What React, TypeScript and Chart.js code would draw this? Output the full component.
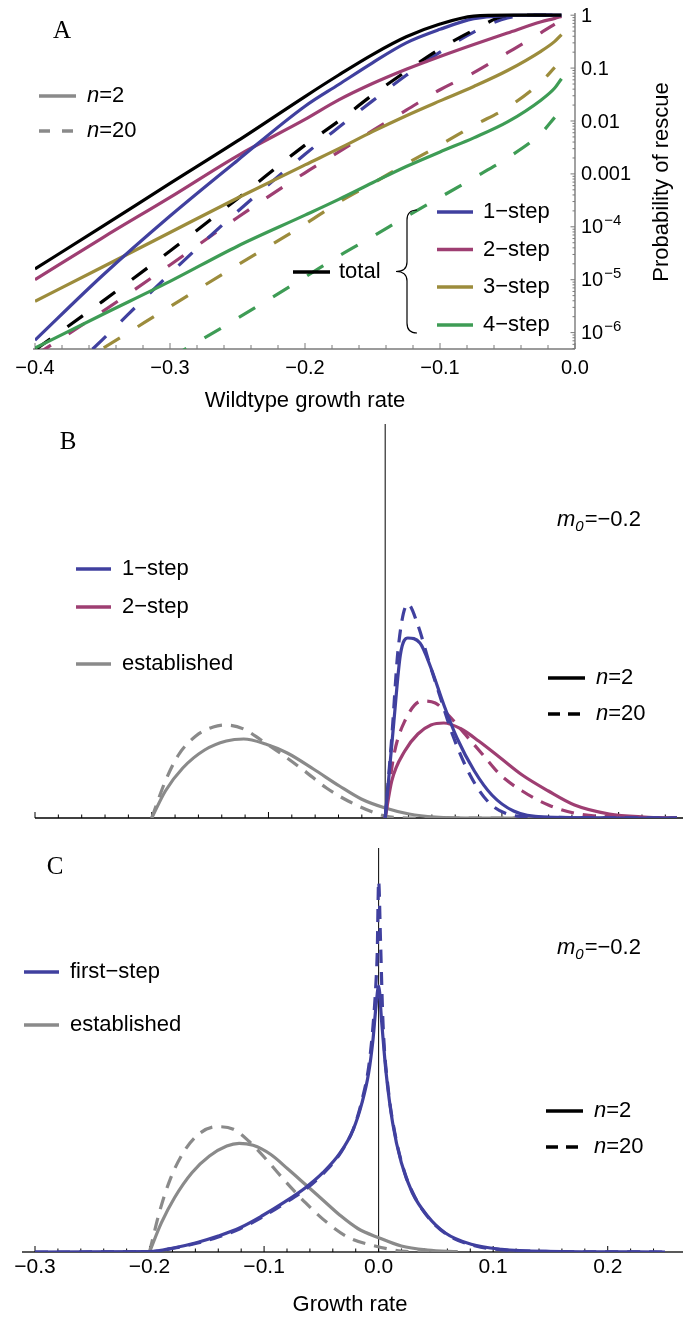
import { useEffect, useRef } from "react";
import { Chart, registerables } from "chart.js";

Chart.register(...registerables);

const SANS = "'Liberation Sans', Arial, Helvetica, sans-serif";
const SERIF = "'Liberation Serif', 'Times New Roman', serif";

const BLUE = "#40409f";
const MAGENTA = "#9e3e72";
const GOLD = "#9c8c3c";
const GREEN = "#3e9c55";
const GRAY = "#8a8a8a";
const BLACK = "#000000";
const AXIS_A = "#7a7a7a";

// ---------------- Panel A : probability of rescue (log scale) ----------------
const aGrowth = [-0.4, -0.35, -0.3, -0.25, -0.2, -0.175, -0.15, -0.125, -0.1, -0.075, -0.05, -0.025, -0.015, -0.01];
const aTotalN2 = [1.6e-5, 1.02e-4, 6.6e-4, 4.2e-3, 0.029, 0.074, 0.18, 0.39, 0.68, 0.96, 1, 1, 1, 1];
const aStep1N2 = [7.2e-7, 1.2e-5, 1.6e-4, 1.8e-3, 0.019, 0.049, 0.126, 0.3, 0.54, 0.86, 0.98, 1, 1, 1];
const aStep2N2 = [1.0e-5, 6.2e-5, 3.6e-4, 2.2e-3, 0.0107, 0.025, 0.051, 0.095, 0.166, 0.28, 0.46, 0.75, 0.87, 0.95];
const aStep3N2 = [3.9e-6, 1.74e-5, 7.8e-5, 3.5e-4, 1.48e-3, 3.0e-3, 6.3e-3, 0.0126, 0.024, 0.045, 0.09, 0.21, 0.32, 0.43];
const aStep4N2 = [5.1e-7, 2.2e-6, 9.3e-6, 4.3e-5, 1.66e-4, 3.3e-4, 6.8e-4, 1.38e-3, 2.6e-3, 4.8e-3, 9.6e-3, 0.025, 0.042, 0.063];
const aTotalN20 = [4.7e-7, 3.9e-6, 3.5e-5, 3.4e-4, 3.5e-3, 0.01, 0.031, 0.087, 0.23, 0.52, 0.98, 1, 1, 1];
const aStep1N20 = [4.3e-8, 7.4e-7, 1.3e-5, 1.95e-4, 2.35e-3, 7.6e-3, 0.024, 0.073, 0.2, 0.48, 0.89, 1, 1, 1];
const aStep2N20 = [3.7e-7, 2.5e-6, 1.9e-5, 1.5e-4, 1.05e-3, 2.6e-3, 6.6e-3, 0.016, 0.039, 0.082, 0.195, 0.47, 0.68, null];
const aStep3N20 = [8.7e-8, 5.0e-7, 3.1e-6, 1.9e-5, 1.12e-4, 2.9e-4, 6.6e-4, 1.55e-3, 3.5e-3, 8.2e-3, 0.018, 0.055, 0.103, null];
const aStep4N20 = [null, null, 3.3e-7, 1.86e-6, 1.12e-5, 2.8e-5, 6.5e-5, 1.56e-4, 3.6e-4, 8.4e-4, 2.0e-3, 5.9e-3, 0.0117, null];
const aXTicks = [-0.4, -0.3, -0.2, -0.1, 0];
const aXTickLabels = ["\u22120.4", "\u22120.3", "\u22120.2", "\u22120.1", "0.0"];
const aYTicks = [1e-6, 1e-5, 1e-4, 1e-3, 1e-2, 1e-1, 1];
const aYTickBase = ["10", "10", "10", "0.001", "0.01", "0.1", "1"];
const aYTickExp = ["\u22126", "\u22125", "\u22124", "", "", "", ""];
const aStepLabels = ["1\u2212step", "2\u2212step", "3\u2212step", "4\u2212step"];

// ---------------- Panel B : growth-rate distributions ----------------
const bStep1N2X = [0, 0.0075, 0.013, 0.0194, 0.0298, 0.0392, 0.0503, 0.0615, 0.0764, 0.0914, 0.11, 0.1361, 0.25];
const bStep1N2 = [0, 9.7, 16.3, 18.0, 17.5, 15.0, 11.3, 8.0, 4.7, 2.3, 0.7, 0.1, 0];
const bStep1N20X = [0, 0.0056, 0.0112, 0.0194, 0.028, 0.0373, 0.0466, 0.0578, 0.0727, 0.0876, 0.1025, 0.1286, 0.25];
const bStep1N20 = [0, 8.0, 17.0, 21.4, 19.3, 15.7, 12.3, 8.3, 4.3, 1.7, 0.5, 0.1, 0];
const bStep2N2X = [0, 0.0056, 0.0168, 0.028, 0.0392, 0.0503, 0.0652, 0.0801, 0.0988, 0.1174, 0.1398, 0.1622, 0.192, 0.2219, 0.25];
const bStep2N2 = [0, 3.7, 6.7, 8.4, 9.3, 9.5, 8.9, 7.7, 6.0, 4.3, 2.7, 1.3, 0.4, 0.1, 0];
const bStep2N20X = [0, 0.0075, 0.0168, 0.0317, 0.0429, 0.0541, 0.069, 0.0839, 0.0988, 0.1174, 0.1398, 0.1659, 0.1995, 0.25];
const bStep2N20 = [0, 6.3, 9.7, 11.7, 11.5, 10.3, 8.3, 6.3, 4.3, 2.7, 1.3, 0.4, 0.1, 0];
const bEstN2X = [-0.2, -0.1883, -0.1734, -0.1547, -0.1361, -0.1212, -0.1025, -0.0839, -0.0615, -0.0392, -0.0205, 0, 0.0205, 0.0429, 0.08, 0.25];
const bEstN2 = [0, 2.7, 5.0, 6.8, 7.7, 7.9, 7.4, 6.5, 4.9, 3.2, 1.9, 1.0, 0.4, 0.1, 0, 0];
const bEstN20X = [-0.2, -0.1883, -0.1771, -0.1622, -0.1473, -0.1361, -0.1212, -0.1063, -0.0876, -0.069, -0.0503, -0.0317, -0.013, 0, 0.021, 0.25];
const bEstN20 = [0, 3.7, 6.3, 8.2, 9.1, 9.3, 8.9, 7.8, 6.3, 4.7, 3.0, 1.7, 0.7, 0.2, 0, 0];

// ---------------- Panel C : first-step vs established ----------------
const cStep1N2X = [-0.3, -0.2, -0.1782, -0.1592, -0.1401, -0.121, -0.102, -0.083, -0.0639, -0.0487, -0.0335, -0.0221, -0.0145, -0.0087, -0.0049, -0.0023, 0, 0.0027, 0.0065, 0.0122, 0.0198, 0.0294, 0.0427, 0.0579, 0.0808, 0.1074, 0.145, 0.25];
const cStep1N2 = [0, 0.03, 0.43, 0.93, 1.6, 2.43, 3.6, 4.93, 6.43, 7.93, 9.93, 12.27, 14.93, 17.93, 21.27, 24.6, 26.6, 22.93, 17.93, 12.93, 8.93, 5.93, 3.6, 1.93, 0.77, 0.27, 0.07, 0];
const cStep1N20X = [-0.3, -0.2, -0.178, -0.159, -0.14, -0.121, -0.102, -0.083, -0.0639, -0.0487, -0.0335, -0.0221, -0.0145, -0.0087, -0.0049, -0.0023, -0.0012, 0, 0.0016, 0.0038, 0.0084, 0.0141, 0.0218, 0.0312, 0.0446, 0.0617, 0.0846, 0.11, 0.15, 0.25];
const cStep1N20 = [0, 0.02, 0.4, 0.87, 1.5, 2.33, 3.47, 4.8, 6.27, 7.8, 9.87, 12.3, 15.2, 18.5, 22.6, 27.0, 30.0, 37.1, 31.27, 22.9, 16.27, 11.93, 8.27, 5.6, 3.27, 1.6, 0.6, 0.2, 0.05, 0];
const cEstN2X = [-0.2, -0.1896, -0.1782, -0.163, -0.1477, -0.1326, -0.1218, -0.1096, -0.0944, -0.0792, -0.0639, -0.0487, -0.0335, -0.0182, 0, 0.0198, 0.0427, 0.069];
const cEstN2 = [0, 2.93, 5.43, 7.93, 9.6, 10.6, 10.87, 10.67, 9.77, 8.3, 6.75, 5.2, 3.65, 2.35, 1.43, 0.6, 0.2, 0.03];
const cEstN20X = [-0.2, -0.1915, -0.182, -0.1706, -0.1572, -0.142, -0.1268, -0.1135, -0.0982, -0.083, -0.0639, -0.0449, -0.0259, -0.0031, 0.0198, 0.044];
const cEstN20 = [0, 3.93, 7.27, 9.93, 11.77, 12.53, 12.27, 11.1, 9.27, 7.27, 4.93, 2.93, 1.43, 0.6, 0.1, 0];
const cXTicks = [-0.3, -0.2, -0.1, 0, 0.1, 0.2];
const cXTickLabels = ["\u22120.3", "\u22120.2", "\u22120.1", "0.0", "0.1", "0.2"];
const m0Label = "=\u22120.2";

// ---------------- helpers ----------------
const DASH_A = [19, 21];
const DASH_BC = [13, 9];

function series(xs: number[], ys: (number | null)[], color: string, dash: number[]) {
  return {
    data: xs.map((x, i) => ({ x, y: ys[i] })),
    borderColor: color,
    borderWidth: 3.2,
    borderDash: dash,
    borderCapStyle: "butt",
    pointRadius: 0,
    fill: false,
    cubicInterpolationMode: "monotone",
  } as any;
}

function line(ctx: CanvasRenderingContext2D, x1: number, y1: number, x2: number, y2: number, color: string, width: number, dash: number[] = []) {
  ctx.save();
  ctx.beginPath();
  ctx.setLineDash(dash);
  ctx.strokeStyle = color;
  ctx.lineWidth = width;
  ctx.moveTo(x1, y1);
  ctx.lineTo(x2, y2);
  ctx.stroke();
  ctx.restore();
}

function text(ctx: CanvasRenderingContext2D, s: string, x: number, y: number, font: string, align: CanvasTextAlign = "left") {
  ctx.save();
  ctx.font = font;
  ctx.fillStyle = "#000";
  ctx.textAlign = align;
  ctx.textBaseline = "middle";
  ctx.fillText(s, x, y);
  ctx.restore();
}

function nLabel(ctx: CanvasRenderingContext2D, rest: string, x: number, y: number, size: number) {
  ctx.save();
  ctx.fillStyle = "#000";
  ctx.textBaseline = "middle";
  ctx.textAlign = "left";
  ctx.font = `italic ${size}px ${SANS}`;
  ctx.fillText("n", x, y);
  const w = ctx.measureText("n").width;
  ctx.font = `${size}px ${SANS}`;
  ctx.fillText(rest, x + w, y);
  ctx.restore();
}

function m0(ctx: CanvasRenderingContext2D, x: number, y: number, size: number) {
  ctx.save();
  ctx.fillStyle = "#000";
  ctx.textBaseline = "middle";
  ctx.textAlign = "left";
  ctx.font = `italic ${size}px ${SANS}`;
  ctx.fillText("m", x, y);
  const w1 = ctx.measureText("m").width;
  const sub = Math.round(size * 0.68);
  ctx.font = `italic ${sub}px ${SANS}`;
  ctx.fillText("0", x + w1, y + size * 0.3);
  const w2 = ctx.measureText("0").width;
  ctx.font = `${size}px ${SANS}`;
  ctx.fillText(m0Label, x + w1 + w2 + 1, y);
  ctx.restore();
}

function xTicks(chart: any, from: number, to: number, step: number, major: number, majLen: number, minLen: number, color: string) {
  const sx = chart.scales.x;
  const y = chart.chartArea.bottom;
  const n = Math.round((to - from) / step);
  for (let i = 0; i <= n; i++) {
    const v = from + i * step;
    const r = v / major;
    const isMajor = Math.abs(r - Math.round(r)) < 1e-6;
    const px = sx.getPixelForValue(v);
    line(chart.ctx, px, y, px, y - (isMajor ? majLen : minLen), color, 1);
  }
}

const baseOpts = {
  responsive: false,
  animation: false,
  events: [],
  plugins: { legend: { display: false }, tooltip: { enabled: false } },
};

// ---------------- Panel A config ----------------
function configA(): any {
  const plugin = {
    id: "panelA",
    beforeDatasetsDraw(chart: any) {
      const { ctx, chartArea: a } = chart;
      line(ctx, a.left - 2, a.bottom, a.right, a.bottom, AXIS_A, 1.6);
      line(ctx, a.right, a.top, a.right, a.bottom, AXIS_A, 1.4);
      xTicks(chart, -0.4, 0, 0.02, 0.1, 6, 4, AXIS_A);
      const ys = chart.scales.y;
      for (let e = -7; e <= 0; e++) {
        for (let m = 1; m <= 9; m++) {
          const v = m * Math.pow(10, e);
          if (v < ys.min || v > ys.max) continue;
          const py = ys.getPixelForValue(v);
          line(ctx, a.right - (m === 1 ? 4.5 : 2.5), py, a.right, py, AXIS_A, 1);
        }
      }
      // right axis tick labels (10 with raised exponent)
      ctx.save();
      ctx.fillStyle = "#000";
      ctx.textAlign = "left";
      ctx.textBaseline = "middle";
      aYTicks.forEach((v, i) => {
        const py = ys.getPixelForValue(v);
        ctx.font = `20px ${SANS}`;
        ctx.fillText(aYTickBase[i], a.right + 6, py + 1);
        if (aYTickExp[i]) {
          const w = ctx.measureText(aYTickBase[i]).width;
          ctx.font = `15px ${SANS}`;
          ctx.fillText(aYTickExp[i], a.right + 6 + w + 1, py - 6);
        }
      });
      ctx.restore();
    },
    afterDraw(chart: any) {
      const ctx = chart.ctx;
      text(ctx, "A", 62, 31, `25px ${SERIF}`, "center");
      // n legend
      line(ctx, 39, 96, 76, 96, GRAY, 3.5);
      nLabel(ctx, "=2", 87, 96, 22);
      line(ctx, 39, 131, 76, 131, GRAY, 3.5, [11, 12]);
      nLabel(ctx, "=20", 87, 131, 22);
      // step legend
      const cols = [BLUE, MAGENTA, GOLD, GREEN];
      const ly = [212, 249.5, 287, 325];
      cols.forEach((c, i) => {
        line(ctx, 437, ly[i], 473, ly[i], c, 3.5);
        text(ctx, aStepLabels[i], 483, ly[i], `22px ${SANS}`);
      });
      line(ctx, 293, 272, 330, 272, BLACK, 3.5);
      text(ctx, "total", 339, 272, `22px ${SANS}`);
      // brace
      ctx.save();
      ctx.strokeStyle = "#000";
      ctx.lineWidth = 1.2;
      ctx.beginPath();
      ctx.moveTo(417, 210);
      ctx.quadraticCurveTo(407, 210, 407, 220);
      ctx.lineTo(407, 262);
      ctx.quadraticCurveTo(407, 271.5, 396, 271.5);
      ctx.quadraticCurveTo(407, 271.5, 407, 281);
      ctx.lineTo(407, 323);
      ctx.quadraticCurveTo(407, 333, 417, 333);
      ctx.stroke();
      ctx.restore();
      // right axis title (reads bottom-to-top)
      ctx.save();
      ctx.translate(661.5, 182);
      ctx.rotate(-Math.PI / 2);
      text(ctx, "Probability of rescue", 0, 0, `22px ${SANS}`, "center");
      ctx.restore();
    },
  };
  return {
    type: "line",
    data: {
      datasets: [
        series(aGrowth, aTotalN2, BLACK, []),
        series(aGrowth, aStep1N2, BLUE, []),
        series(aGrowth, aStep2N2, MAGENTA, []),
        series(aGrowth, aStep3N2, GOLD, []),
        series(aGrowth, aStep4N2, GREEN, []),
        series(aGrowth, aTotalN20, BLACK, DASH_A),
        series(aGrowth, aStep1N20, BLUE, DASH_A),
        series(aGrowth, aStep2N20, MAGENTA, DASH_A),
        series(aGrowth, aStep3N20, GOLD, DASH_A),
        series(aGrowth, aStep4N20, GREEN, DASH_A),
      ],
    },
    options: {
      ...baseOpts,
      layout: { padding: { left: 35, top: 13, right: 0, bottom: 0 }, autoPadding: false },
      scales: {
        x: {
          type: "linear",
          position: "bottom",
          min: -0.4,
          max: 0,
          grid: { display: false, drawTicks: false },
          border: { display: false },
          afterBuildTicks: (s: any) => { s.ticks = aXTicks.map((v) => ({ value: v })); },
          afterFit: (s: any) => { s.height = 71; },
          ticks: {
            padding: 7,
            autoSkip: false,
            maxRotation: 0,
            color: "#000",
            font: { family: SANS, size: 20 },
            callback: (_v: any, i: number) => aXTickLabels[i],
          },
          title: {
            display: true,
            text: "Wildtype growth rate",
            color: "#000",
            font: { family: SANS, size: 22 },
            padding: { top: 0, bottom: 6 },
          },
        },
        y: {
          type: "logarithmic",
          position: "right",
          min: 4.9e-7,
          max: 1.1,
          grid: { display: false, drawTicks: false },
          border: { display: false },
          afterBuildTicks: (s: any) => { s.ticks = aYTicks.map((v) => ({ value: v })); },
          afterFit: (s: any) => { s.width = 108; },
          ticks: { display: false },
        },
      },
    },
    plugins: [plugin],
  };
}

// ---------------- Panel B config ----------------
function configB(): any {
  const plugin = {
    id: "panelB",
    beforeDatasetsDraw(chart: any) {
      const { ctx, chartArea: a } = chart;
      line(ctx, 35, a.bottom, 683, a.bottom, "#000", 1.3);
      xTicks(chart, -0.3, 0.24, 0.02, 0.1, 6, 3.5, "#000");
      const x0 = chart.scales.x.getPixelForValue(0);
      line(ctx, x0, a.top, x0, a.bottom, "#000", 1);
    },
    afterDraw(chart: any) {
      const ctx = chart.ctx;
      text(ctx, "B", 68, 22, `25px ${SERIF}`, "center");
      m0(ctx, 557, 100, 22);
      line(ctx, 76, 149, 111, 149, BLUE, 3.5);
      text(ctx, "1\u2212step", 122, 149, `22px ${SANS}`);
      line(ctx, 76, 187, 111, 187, MAGENTA, 3.5);
      text(ctx, "2\u2212step", 122, 187, `22px ${SANS}`);
      line(ctx, 76, 244, 111, 244, GRAY, 3.5);
      text(ctx, "established", 122, 244, `22px ${SANS}`);
      line(ctx, 548, 258, 585, 258, BLACK, 3.5);
      nLabel(ctx, "=2", 596, 258, 22);
      line(ctx, 548, 294, 585, 294, BLACK, 3.5, [12, 8]);
      nLabel(ctx, "=20", 596, 294, 22);
    },
  };
  return {
    type: "line",
    data: {
      datasets: [
        series(bStep1N2X, bStep1N2, BLUE, []),
        series(bStep1N20X, bStep1N20, BLUE, DASH_BC),
        series(bStep2N2X, bStep2N2, MAGENTA, []),
        series(bStep2N20X, bStep2N20, MAGENTA, DASH_BC),
        series(bEstN2X, bEstN2, GRAY, []),
        series(bEstN20X, bEstN20, GRAY, DASH_BC),
      ],
    },
    options: {
      ...baseOpts,
      layout: { padding: { left: 35, top: 4, right: 6, bottom: 0 }, autoPadding: false },
      scales: {
        x: {
          type: "linear",
          min: -0.3,
          max: 0.25,
          grid: { display: false, drawTicks: false },
          border: { display: false },
          ticks: { display: false },
          afterFit: (s: any) => { s.height = 22; },
        },
        y: { display: false, min: 0, max: 39.4 },
      },
    },
    plugins: [plugin],
  };
}

// ---------------- Panel C config ----------------
function configC(): any {
  const plugin = {
    id: "panelC",
    beforeDatasetsDraw(chart: any) {
      const { ctx, chartArea: a } = chart;
      line(ctx, 22, a.bottom, 683, a.bottom, "#222", 1.3);
      xTicks(chart, -0.3, 0.24, 0.02, 0.1, 6, 3.5, "#000");
      const x0 = chart.scales.x.getPixelForValue(0);
      line(ctx, x0, a.top, x0, a.bottom, "#000", 1);
    },
    afterDraw(chart: any) {
      const ctx = chart.ctx;
      text(ctx, "C", 55, 27, `25px ${SERIF}`, "center");
      m0(ctx, 557, 108, 22);
      line(ctx, 24, 132, 59, 132, BLUE, 3.5);
      text(ctx, "first\u2212step", 70, 132, `22px ${SANS}`);
      line(ctx, 24, 185, 59, 185, GRAY, 3.5);
      text(ctx, "established", 70, 185, `22px ${SANS}`);
      line(ctx, 546, 271, 583, 271, BLACK, 3.5);
      nLabel(ctx, "=2", 594, 271, 22);
      line(ctx, 546, 307, 583, 307, BLACK, 3.5, [12, 8]);
      nLabel(ctx, "=20", 594, 307, 22);
    },
  };
  return {
    type: "line",
    data: {
      datasets: [
        series(cStep1N20X, cStep1N20, BLUE, DASH_BC),
        series(cStep1N2X, cStep1N2, BLUE, []),
        series(cEstN2X, cEstN2, GRAY, []),
        series(cEstN20X, cEstN20, GRAY, DASH_BC),
      ],
    },
    options: {
      ...baseOpts,
      layout: { padding: { left: 35, top: 8, right: 18, bottom: 0 }, autoPadding: false },
      scales: {
        x: {
          type: "linear",
          min: -0.3,
          max: 0.25,
          grid: { display: false, drawTicks: false },
          border: { display: false },
          afterBuildTicks: (s: any) => { s.ticks = cXTicks.map((v) => ({ value: v })); },
          afterFit: (s: any) => { s.height = 66; },
          ticks: {
            padding: 3,
            autoSkip: false,
            maxRotation: 0,
            color: "#000",
            font: { family: SANS, size: 21 },
            callback: (_v: any, i: number) => cXTickLabels[i],
          },
          title: {
            display: true,
            text: "Growth rate",
            color: "#000",
            font: { family: SANS, size: 22 },
            padding: { top: 0, bottom: 0 },
          },
        },
        y: { display: false, min: 0, max: 40.4 },
      },
    },
    plugins: [plugin],
  };
}

export default function App() {
  const refA = useRef<HTMLCanvasElement>(null);
  const refB = useRef<HTMLCanvasElement>(null);
  const refC = useRef<HTMLCanvasElement>(null);

  useEffect(() => {
    const charts = [
      new Chart(refA.current as HTMLCanvasElement, configA()),
      new Chart(refB.current as HTMLCanvasElement, configB()),
      new Chart(refC.current as HTMLCanvasElement, configC()),
    ];
    return () => charts.forEach((c) => c.destroy());
  }, []);

  const cv = (top: number, h: number) => ({ position: "absolute" as const, left: 0, top, width: 683, height: h });

  return (
    <div style={{ position: "absolute", left: 0, top: 0, width: 683, height: 1318, background: "#fff", overflow: "hidden" }}>
      <canvas ref={refA} width={683} height={420} style={cv(0, 420)} />
      <canvas ref={refB} width={683} height={420} style={cv(420, 420)} />
      <canvas ref={refC} width={683} height={478} style={cv(840, 478)} />
    </div>
  );
}
